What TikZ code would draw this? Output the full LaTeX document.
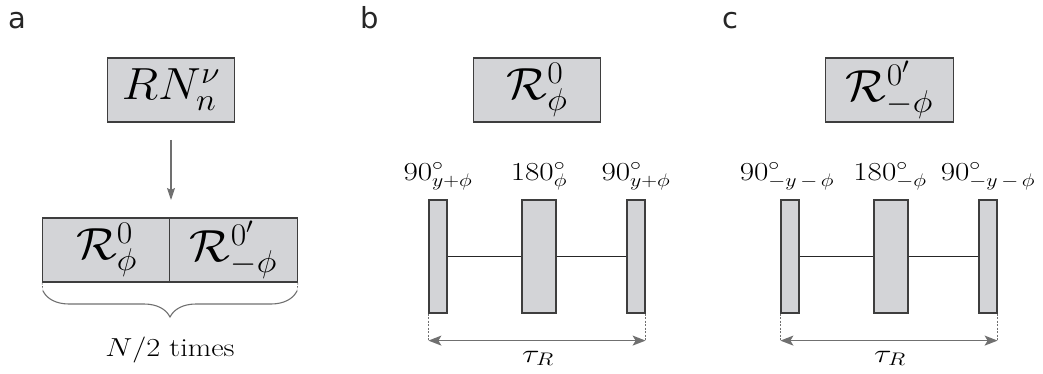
\RequirePackage{fix-cm}
\documentclass[tikz,border=0pt]{standalone}
\usepackage{graphicx}
\usepackage{fontspec}
\newfontfamily\panelfont{DejaVu Sans}
\usetikzlibrary{arrows.meta,decorations.pathreplacing}
\definecolor{boxgray}{RGB}{211,212,215}
\definecolor{edgegray}{RGB}{62,62,62}
\definecolor{arrgray}{RGB}{112,112,112}
\newcommand\wbox[1]{\scalebox{1.07}[1]{#1}}
\newcommand\wlab[1]{\scalebox{1.2}[1]{#1}}
\tikzset{
  box/.style={draw=edgegray, fill=boxgray, line width=1.3pt, minimum width=127.5pt,
    minimum height=64pt, inner sep=0pt, font=\fontsize{45}{54}\selectfont},
  pulse/.style={draw=edgegray, fill=boxgray, line width=1.2pt, minimum height=113pt, inner sep=0pt},
  lbl/.style={anchor=base, inner sep=0pt, font=\fontsize{26}{31}\selectfont},
  panel/.style={anchor=base west, inner sep=0pt, font=\panelfont\fontsize{29}{35}\selectfont, text=black!85},
  guide/.style={draw=arrgray, dashed, dash pattern=on 2pt off 1.5pt, line width=0.6pt},
  span/.style={draw=arrgray, line width=1.4pt, {Stealth[length=13pt,width=10pt,inset=3pt]}-{Stealth[length=13pt,width=10pt,inset=3pt]}},
  conn/.style={draw=black!85, line width=1.1pt}
}
\begin{document}
\begin{tikzpicture}[x=1pt,y=-1pt]
\useasboundingbox (0,0) rectangle (1043,374);
% panel labels
\node[panel] (la) at (8,29) {a};
\node[panel] (lb) at (360,29) {b};
\node[panel] (lc) at (722,29) {c};
% ---------- panel a
\node[box] (rn) at (171,90) {\wbox{$RN^{\nu}_{n}$}};
\node[box] (ra) at (106.5,250) {\wbox{$\mathcal{R}^{0}_{\phi}$}};
\node[box] (rb) at (233.5,250) {\wbox{$\mathcal{R}^{0'}_{-\phi}$}};
\coordinate (at) at (171,140);
\draw[draw=arrgray, line width=1.1pt, -{Stealth[length=12pt,width=8pt,inset=2pt]}] (at) -- (171,200);
\coordinate (ba) at (43,291);
\coordinate (bb) at (297,291);
\draw[guide] (ra.south west) -- (ba);
\draw[guide] (rb.south east) -- (bb);
\draw[draw=arrgray, line width=1.1pt, decorate, decoration={brace, mirror, amplitude=26pt}] (ba) -- (bb);
\node[anchor=base, inner sep=0pt, font=\fontsize{26}{31}\selectfont] (nt) at (170,356) {\scalebox{1.17}[1]{$N/2$ times}};
% ---------- panel b
\node[box] (r0) at (537,90) {\wbox{$\mathcal{R}^{0}_{\phi}$}};
\node[pulse, minimum width=18pt] (b1) at (438,256.5) {};
\node[pulse, minimum width=34pt] (b2) at (539,256.5) {};
\node[pulse, minimum width=18pt] (b3) at (636,256.5) {};
\draw[conn] (b1.east) -- (b2.west);
\draw[conn] (b2.east) -- (b3.west);
\node[lbl] (tb1) at (438,180) {\wlab{$90^{\circ}_{y+\phi}$}};
\node[lbl] (tb2) at (539,180) {\wlab{$180^{\circ}_{\phi}$}};
\node[lbl] (tb3) at (636,180) {\wlab{$90^{\circ}_{y+\phi}$}};
\coordinate (bl) at ([yshift=-27pt]b1.south west);
\coordinate (br) at ([yshift=-27pt]b3.south east);
\draw[guide] (b1.south west) -- (bl);
\draw[guide] (b3.south east) -- (br);
\draw[span] (bl) -- (br);
\node[lbl] (taub) at (538,362) {\scalebox{1.25}[1]{$\tau_{R}$}};
% ---------- panel c
\node[box] (r1) at (889.5,90) {\wbox{$\mathcal{R}^{0'}_{-\phi}$}};
\node[pulse, minimum width=18pt] (c1) at (790,256.5) {};
\node[pulse, minimum width=34pt] (c2) at (891,256.5) {};
\node[pulse, minimum width=18pt] (c3) at (988,256.5) {};
\draw[conn] (c1.east) -- (c2.west);
\draw[conn] (c2.east) -- (c3.west);
\node[lbl] (tc1) at (787,180) {\wlab{$90^{\circ}_{-y\mkern3mu-\mkern3mu\phi}$}};
\node[lbl] (tc2) at (890,180) {\wlab{$180^{\circ}_{-\phi}$}};
\node[lbl] (tc3) at (988,180) {\wlab{$90^{\circ}_{-y\mkern3mu-\mkern3mu\phi}$}};
\coordinate (cl) at ([yshift=-27pt]c1.south west);
\coordinate (cr) at ([yshift=-27pt]c3.south east);
\draw[guide] (c1.south west) -- (cl);
\draw[guide] (c3.south east) -- (cr);
\draw[span] (cl) -- (cr);
\node[lbl] (tauc) at (890,362) {\scalebox{1.25}[1]{$\tau_{R}$}};
\end{tikzpicture}
\end{document}
